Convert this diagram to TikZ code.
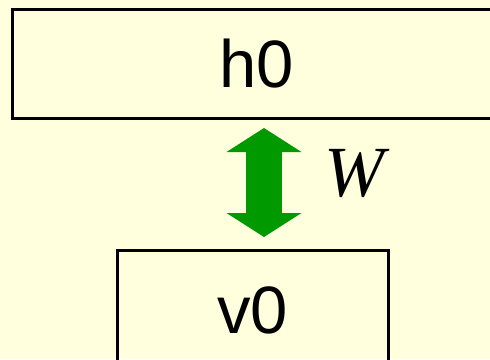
\documentclass[tikz,border=0pt]{standalone}
\usepackage{fontspec}
\setmainfont{Liberation Sans}
\newfontfamily\timesfont{Liberation Serif}
\usetikzlibrary{arrows.meta,positioning}
\definecolor{slidebg}{RGB}{255,255,221}
\definecolor{arrowgreen}{RGB}{0,153,0}

\begin{document}
\begin{tikzpicture}[x=1pt, y=1pt,
    layerbox/.style={rectangle, draw, line width=3pt, inner sep=0pt,
        font=\fontsize{67}{70}\selectfont},
    blockarrow/.style={arrowgreen, line width=36pt,
        {Triangle[length=24pt, width=75pt, line width=0pt]}-{Triangle[length=24pt, width=75pt, line width=0pt]}}]
    % Slide background
    \fill[slidebg] (0,0) rectangle (490,-359);
    \useasboundingbox (0,0) rectangle (490,-359);

    % Hidden and visible layers
    \node[layerbox, minimum width=490pt, minimum height=108.5pt] (hbox) at (257,-63.75) {h0};
    \node[layerbox, minimum width=270.5pt, minimum height=121pt] (vbox) at (252.75,-310.5) {v0};

    % Weights between the layers
    \coordinate (atop) at (264,-128);
    \coordinate (abot) at (264,-237);
    \draw[blockarrow] (atop) -- (abot);
    \node[font=\timesfont\itshape\fontsize{72}{76}\selectfont] (wlabel) at (354,-173) {W};
\end{tikzpicture}
\end{document}
